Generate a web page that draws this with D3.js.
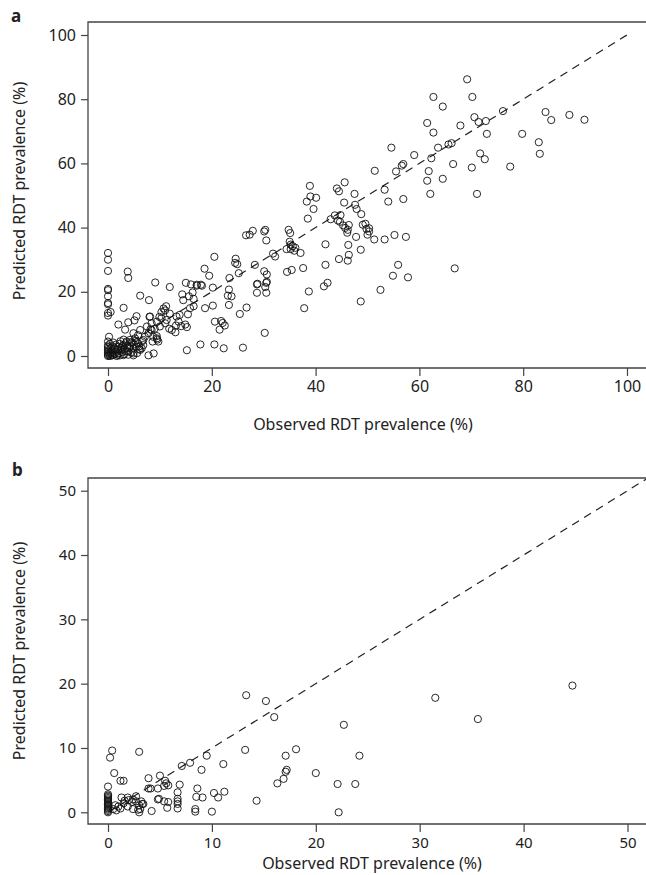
<!DOCTYPE html>
<html>
<head>
<meta charset="utf-8">
<script src="https://cdn.jsdelivr.net/npm/d3@7"></script>
<style>
  body { margin: 0; background: #fff; }
  svg { display: block; }
  text { font-family: "Noto Sans", "DejaVu Sans", sans-serif; fill: #222; }
</style>
</head>
<body>
<svg id="chart" width="646" height="875"></svg>
<script>
// observed vs predicted RDT prevalence (%), panel a
var pointsA = [
  [54.6,64.9],[59.0,62.6],[62.3,61.6],[62.7,80.7],[64.5,77.7],[61.5,72.6],[62.7,69.6],[63.6,64.9],
  [65.6,65.9],[66.2,66.3],[67.9,71.8],[69.2,86.2],[70.2,80.7],[70.6,74.4],[71.4,72.9],[72.8,73.2],
  [73.0,69.2],[71.7,63.1],[72.6,61.3],[76.1,76.3],[79.8,69.2],[83.0,66.6],[83.2,63.0],[84.3,76.0],
  [85.4,73.5],[88.9,75.1],[91.8,73.6],
  [77.5,59.0],[70.1,58.7],[71.1,50.5],[66.5,59.8],[64.5,55.2],[61.8,57.6],[61.5,54.6],[62.1,50.5],
  [56.9,59.8],[56.6,59.3],[55.5,57.5],[53.3,51.8],[54.0,48.1],[56.9,48.9],[51.4,57.7],[51.3,36.3],
  [53.3,36.3],[55.2,37.7],[57.4,37.1],[55.9,28.4],[54.9,25.0],[57.8,24.5],[66.8,27.3],[47.5,50.5],
  [45.6,54.1],[44.1,52.2],[44.5,51.3],[45.5,47.8],[47.6,47.1],[47.9,45.8],[48.8,44.2],[43.7,43.8],
  [44.8,43.9],[44.3,42.2],[44.7,41.8],[45.3,40.7],[42.9,42.6],[46.4,40.8],[45.7,39.9],[46.2,39.3],
  [46.1,38.4],[49.1,40.9],[49.6,41.2],[49.8,39.6],[50.3,39.8],[50.3,38.8],[50.0,37.8],[47.8,37.1],
  [48.7,33.1],[46.3,34.6],[46.4,31.5],[46.2,29.7],[44.5,30.2],[41.9,34.8],[41.9,28.4],[42.3,22.8],
  [41.6,21.7],[38.9,53.0],[39.0,49.7],[40.1,49.3],[38.3,48.1],[39.6,45.8],[38.5,42.8],[34.8,39.3],
  [35.1,38.3],[35.0,35.6],[35.2,34.7],[35.6,34.2],[36.1,33.7],[35.2,33.3],[35.9,32.8],[37.1,32.1],
  [34.4,33.3],[37.6,27.4],[34.5,26.2],[35.4,26.8],[31.8,31.9],[32.2,31.0],[30.1,38.8],[30.3,39.3],
  [30.5,36.0],[27.9,39.0],[27.3,37.8],[26.6,37.6],[24.6,30.3],[24.5,29.0],[24.9,28.6],[25.2,25.8],
  [28.3,28.4],[30.1,26.4],[30.6,25.4],[30.6,23.1],[28.8,22.5],[30.3,21.5],[23.4,24.3],[20.5,30.9],
  [18.6,27.2],[19.5,25.0],[17.1,22.2],[17.9,22.2],[16.0,22.3],[15.0,22.8],[11.9,21.5],[9.1,22.9],
  [3.8,26.3],[3.9,24.3],[0,32.1],[0,30.0],[0,26.5],
  [0,20.9],[0,20.5],[0,18.6],[0,16.5],[0,16.1],[0,13.4],[0,12.6],[0.5,13.7],[14.3,19.2],[14.5,17.4],
  [15.6,18.6],[16.3,19.8],[16.5,17.8],[15.4,13.0],[15.8,14.9],[16.5,15.5],[17.1,21.9],[18.1,21.9],
  [20.2,21.3],[23.3,20.7],[23.1,18.8],[23.8,18.6],[23.3,15.9],[18.7,14.9],[20.2,15.7],[20.6,10.7],
  [21.8,10.9],[22.1,10.3],[22.5,9.5],[21.5,8.2],[25.4,13.1],[26.7,15.1],[28.7,22.3],[28.7,19.7],
  [30.5,22.8],[30.5,19.7],[30.2,7.2],[37.8,14.9],[38.7,20.1],[48.7,17.0],[52.5,20.6],[15.2,1.8],
  [17.8,3.6],[20.5,3.6],[22.3,2.4],[26.0,2.6],[13.6,10.7],[14.1,9.3],[14.9,9.8],[15.2,9.0],
  [13.1,9.5],[11.8,8.5],[13.0,7.4],[10.7,14.8],[11.2,15.5],[10.3,13.7],[11.0,14.2],[11.9,13.2],
  [9.9,12.2],[6.2,18.8],[7.9,17.4],[3.0,15.0],[8.0,12.2],[5.5,12.4],[5.1,11.1],[3.9,10.5],
  [2.0,9.8],[3.3,8.2],[0.2,6.0],[7.8,0.2],[8.8,0.8],[4.9,0.2],[4.9,0.8],[6.0,2.2],
  [8.1,12.3],[7.5,9.2],[8.4,8.1],[7.8,7.1],[8.7,6.0],[9.4,5.5],[9.7,4.5],[7.1,6.0],[6.8,5.0],
  [6.2,8.1],[5.8,6.5],[4.9,7.1],[5.2,5.5],[4.2,5.0],[3.6,4.5],[4.6,4.0],[3.0,3.4],[2.0,2.9],
  [2.6,1.9],[1.4,1.9],[0.7,1.4],[1.0,0.3],[0,0.3],[0.4,0],[1.7,0],[3.0,0.3],[3.9,1.4],[4.9,2.4],
  [5.5,2.9],[6.2,1.9],[6.8,3.4],[5.8,4.0],[6.5,2.4],[10.3,11.8],[11.3,11.2],[9.4,10.7],[10.0,9.2],
  [11.0,10.2],[8.4,10.2],[13.2,12.3],[13.8,12.8],[12.3,8.1],[8.2,8.3],[9.0,8.5],[9.4,6.2],[8.6,4.5],
  [9.5,5.1],[6.6,4.6],[4.2,3.1],[3.0,5.1],
  [0,0],[0,0.8],[0,1.2],[0,1.7],[0,2.2],[0,2.8],[0,3.3],[0.3,0.5],[0.5,1.0],[0.6,2.4],[0.8,0.2],
  [0.9,3.0],[1.1,1.0],[1.2,2.5],[1.3,0.6],[1.5,3.5],[1.6,1.3],[1.8,0.4],[1.9,2.1],[2.1,0.9],
  [2.2,3.8],[2.3,0.2],[2.5,2.6],[2.7,1.2],[2.8,3.1],[3.1,0.6],[3.2,2.2],[3.4,4.0],[3.5,1.5],
  [3.7,3.0],[3.9,0.4],[4.1,2.6],[4.4,4.3],[4.5,1.1],[5.0,3.6],[5.3,4.7],[5.6,0.9],[6.0,3.0],
  [1.0,4.2],[0.4,3.8],[2.4,4.6],[0,4.5]
];

// panel b
var pointsB = [
  [44.7,19.7],[31.5,17.8],[35.6,14.5],[22.7,13.6],[13.3,18.2],[15.2,17.3],[16.0,14.8],[13.2,9.7],
  [18.1,9.8],[17.1,8.8],[24.2,8.8],[17.1,6.3],[17.2,6.6],[16.9,5.2],[16.3,4.5],[20.0,6.1],
  [22.1,4.4],[23.8,4.4],[22.2,0.0],[14.3,1.8],[9.5,8.8],[11.1,7.5],[11.2,3.2],[10.2,3.0],
  [10.6,2.3],[10.0,0.1],[9.0,6.6],[8.6,3.7],[8.5,2.4],[9.1,2.3],[8.4,0.5],[8.4,0.1],[7.9,7.7],
  [7.1,7.2],[6.9,4.3],[6.7,3.1],[6.7,2.1],[6.7,1.3],[6.7,0.6],[6.7,1.7],[5.0,5.7],[5.5,4.9],
  [5.8,4.2],[5.6,4.5],[3.9,5.3],[3.9,3.7],[4.1,3.7],[4.8,3.7],[4.9,2.1],[5.4,1.7],[5.7,0.7],
  [4.2,0.2],[3.0,9.4],[0.4,9.6],[0.2,8.5],[0.6,6.1],[1.2,4.9],[1.5,4.9],[0,4.0],[1.3,2.3],
  [1.9,2.3],[2.7,2.5],[2.7,1.7],[3.0,1.1],[3.0,0.0],[3.3,1.3],[3.1,0.5],[2.0,1.9],[2.3,1.6],
  [2.4,2.0],[2.9,0.4],[2.4,0.5],[1.9,0.9],[1.5,1.4],[1.0,0.9],[0.8,0.3],[1.2,0.6],[0.5,0.5],
  [0.7,1.1],[1.6,1.8],[3.2,1.7],[3.4,1.3],[5.8,1.6],[4.8,2.0],[5.4,4.1],
  [0,0],[0,0.2],[0,0.4],[0,0.6],[0,0.8],[0,1.0],[0,1.2],[0,1.4],[0,1.6],[0,1.8],[0,2.0],
  [0,2.2],[0,2.4],[0,2.6],[0,2.8]
];

var ticksA = [0, 20, 40, 60, 80, 100];
var ticksB = [0, 10, 20, 30, 40, 50];

var svg = d3.select('#chart');

function panel(opts) {
  var x = d3.scaleLinear().domain(opts.xDomain).range(opts.xRange),
      y = d3.scaleLinear().domain(opts.yDomain).range(opts.yRange),
      box = opts.box,
      g = svg.append('g');

  g.append('clipPath').attr('id', opts.id + '-clip')
    .append('rect')
    .attr('x', box.left).attr('y', box.top)
    .attr('width', box.right - box.left).attr('height', box.bottom - box.top);

  // frame (right side runs off the picture)
  g.append('path')
    .attr('d', 'M' + box.right + ',' + box.top + 'H' + box.left + 'V' + box.bottom + 'H' + box.right)
    .attr('fill', 'none').attr('stroke', '#444').attr('stroke-width', 1.3);

  var ya = g.append('g').attr('transform', 'translate(' + box.left + ',0)')
    .call(d3.axisLeft(y).tickValues(opts.ticks).tickSize(7).tickSizeOuter(0).tickPadding(5));
  var xa = g.append('g').attr('transform', 'translate(0,' + box.bottom + ')')
    .call(d3.axisBottom(x).tickValues(opts.ticks).tickSize(8).tickSizeOuter(0).tickPadding(opts.xPad));
  [ya, xa].forEach(function (a) {
    a.select('.domain').remove();
    a.selectAll('line').attr('stroke', '#444').attr('stroke-width', 1.2);
    a.selectAll('text').attr('font-size', opts.tickFont).attr('fill', '#222')
      .style('font-family', '"Noto Sans", sans-serif');
  });

  // identity line
  g.append('line')
    .attr('clip-path', 'url(#' + opts.id + '-clip)')
    .attr('x1', x(0)).attr('y1', y(0))
    .attr('x2', x(opts.lineEnd)).attr('y2', y(opts.lineEnd))
    .attr('stroke', '#222').attr('stroke-width', 1.2)
    .attr('stroke-dasharray', '8,6');

  g.selectAll('circle').data(opts.points)
    .enter().append('circle')
    .attr('cx', function (d) { return x(d[0]); })
    .attr('cy', function (d) { return y(d[1]); })
    .attr('r', 3.6)
    .attr('fill', 'none').attr('stroke', '#111').attr('stroke-width', 0.9);

  g.append('text')
    .attr('x', opts.xTitle[0]).attr('y', opts.xTitle[1])
    .attr('text-anchor', 'middle').attr('font-size', '16px')
    .text('Observed RDT prevalence (%)');
  g.append('text')
    .attr('transform', 'translate(' + opts.yTitle[0] + ',' + opts.yTitle[1] + ') rotate(-90)')
    .attr('text-anchor', 'middle').attr('font-size', '16px')
    .text('Predicted RDT prevalence (%)');
  g.append('text')
    .attr('x', opts.label[0]).attr('y', opts.label[1])
    .attr('font-size', '17px').attr('font-weight', 'bold')
    .text(opts.id);
}

panel({
  id: 'a',
  points: pointsA,
  ticks: ticksA,
  tickFont: '16px', xPad: 5,
  xDomain: [0, 100], xRange: [108, 627],
  yDomain: [0, 100], yRange: [356, 35],
  box: {left: 88, right: 660, top: 22, bottom: 368},
  lineEnd: 100,
  xTitle: [363, 430],
  yTitle: [25, 191],
  label: [11, 22]
});

panel({
  id: 'b',
  points: pointsB,
  ticks: ticksB,
  tickFont: '15px', xPad: 5,
  xDomain: [0, 50], xRange: [108, 627.5],
  yDomain: [0, 50], yRange: [812.3, 490.7],
  box: {left: 88, right: 660, top: 478, bottom: 824},
  lineEnd: 60,
  xTitle: [372, 869],
  yTitle: [25, 651],
  label: [12, 476]
});
</script>
</body>
</html>
